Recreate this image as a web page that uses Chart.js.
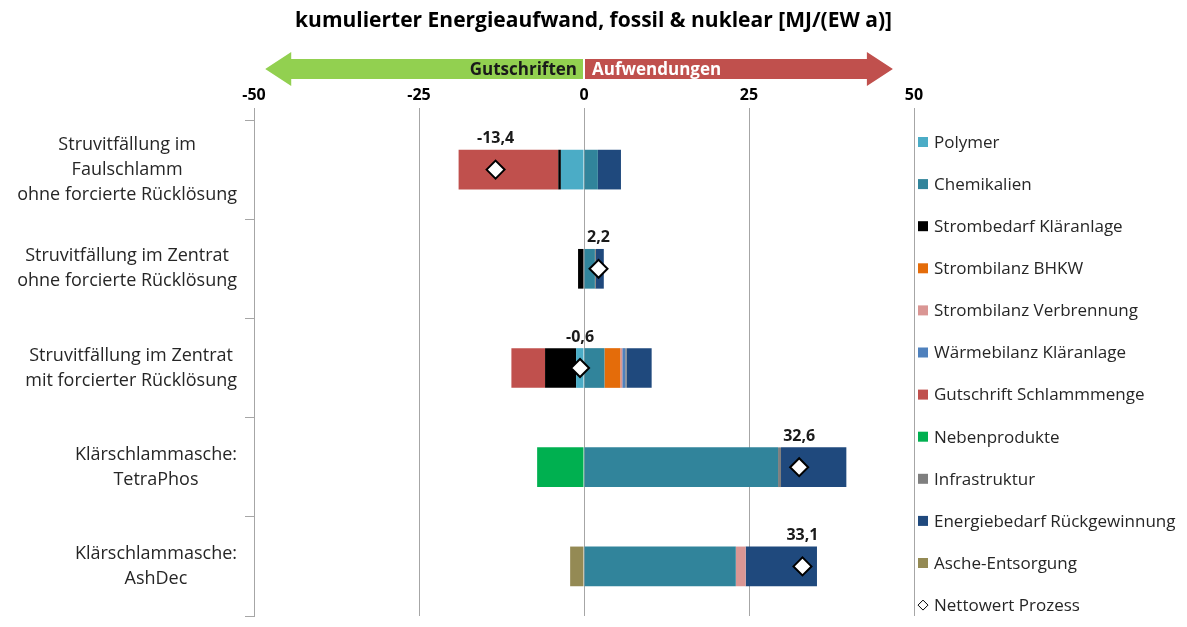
<!DOCTYPE html>
<html>
<head>
<meta charset="utf-8">
<script src="https://cdn.jsdelivr.net/npm/chart.js@4.4.0/dist/chart.umd.min.js"></script>
<style>
  html, body { margin: 0; padding: 0; background: #fff; }
</style>
</head>
<body>
<canvas id="energyChart" width="1187" height="627"></canvas>
<script>
// categories (one array per label line)
var categories = [
    ['Struvitfällung im', 'Faulschlamm', 'ohne forcierte Rücklösung'],
    ['Struvitfällung im Zentrat', 'ohne forcierte Rücklösung'],
    ['Struvitfällung im Zentrat', 'mit forcierter Rücklösung'],
    ['Klärschlammasche:', 'TetraPhos'],
    ['Klärschlammasche:', 'AshDec']
];

// MJ/(EW a)
var polymer                = [-3.5,  0,    -1.2,  0,     0];
var chemikalien            = [ 2.1,  1.65,  3.1,  29.4,  23.0];
var strombedarfKlaeranlage = [-0.4, -0.9,  -4.7,  0,     0];
var strombilanzBHKW        = [ 0,    0,     2.4,  0,     0];
var strombilanzVerbrennung = [ 0,    0,     0.3,  0,     1.5];
var waermebilanz           = [ 0,    0,     0.45, 0,     0];
var gutschriftSchlamm      = [-15.1, 0,    -5.1,  0,     0];
var nebenprodukte          = [ 0,    0,     0,   -7.1,   0];
var infrastruktur          = [ 0,    0.15,  0.2,  0.45,  0];
var energiebedarf          = [ 3.5,  1.2,   3.8,  9.9,   10.8];
var ascheEntsorgung        = [ 0,    0,     0,    0,    -2.1];
var nettowert              = [-13.4, 2.2,  -0.6,  32.6,  33.1];

var xTicks = [-50, -25, 0, 25, 50];

var FONT = 'Open Sans';
var TEXT = '#262626';
var GRID = '#a6a6a6';
var TITLE_H = 21 * 1.2 + 8 + 10;

Chart.defaults.font.family = FONT;
Chart.defaults.color = TEXT;

function fmt(v) {
    return v.toFixed(1).replace('.', ',');
}

function barSet(label, data, color) {
    return {
        label: label,
        data: data,
        backgroundColor: color,
        borderWidth: 0,
        barPercentage: 0.4,
        categoryPercentage: 1.0,
        stack: 'process'
    };
}

// category labels: block right-aligned to the axis, lines centred in the block
var categoryLabels = {
    id: 'categoryLabels',
    afterDraw: function(chart) {
        var ctx = chart.ctx, y = chart.scales.y;
        var lh = 25, right = y.right - 17;
        ctx.save();
        ctx.font = '18px "' + FONT + '"';
        ctx.fillStyle = TEXT;
        ctx.textAlign = 'center';
        ctx.textBaseline = 'middle';
        categories.forEach(function(lines, i) {
            var w = 0;
            lines.forEach(function(l) { w = Math.max(w, ctx.measureText(l).width); });
            var cx = right - w / 2;
            var cy = y.getPixelForValue(i);
            lines.forEach(function(l, j) {
                ctx.fillText(l, cx, cy + (j - (lines.length - 1) / 2) * lh);
            });
        });
        ctx.restore();
    }
};

// green / red arrows above the axis
var arrows = {
    id: 'arrows',
    afterDraw: function(chart) {
        var ctx = chart.ctx, x = chart.scales.x;
        var x0 = x.getPixelForValue(0);
        var xl = x.getPixelForValue(-48.3);
        var xr = x.getPixelForValue(46.8);
        var cy = 69, hb = 10, hh = 17, head = 26;
        ctx.save();
        ctx.fillStyle = '#92d050';
        ctx.beginPath();
        ctx.moveTo(x0 - 1, cy - hb);
        ctx.lineTo(xl + head, cy - hb);
        ctx.lineTo(xl + head, cy - hh);
        ctx.lineTo(xl, cy);
        ctx.lineTo(xl + head, cy + hh);
        ctx.lineTo(xl + head, cy + hb);
        ctx.lineTo(x0 - 1, cy + hb);
        ctx.closePath();
        ctx.fill();

        ctx.fillStyle = '#c0504d';
        ctx.beginPath();
        ctx.moveTo(x0 + 1, cy - hb);
        ctx.lineTo(xr - head, cy - hb);
        ctx.lineTo(xr - head, cy - hh);
        ctx.lineTo(xr, cy);
        ctx.lineTo(xr - head, cy + hh);
        ctx.lineTo(xr - head, cy + hb);
        ctx.lineTo(x0 + 1, cy + hb);
        ctx.closePath();
        ctx.fill();

        ctx.font = 'bold 17px "' + FONT + '"';
        ctx.textBaseline = 'middle';
        ctx.fillStyle = '#1a1a1a';
        ctx.textAlign = 'right';
        ctx.fillText('Gutschriften', x0 - 7, cy + 1);
        ctx.fillStyle = '#ffffff';
        ctx.textAlign = 'left';
        ctx.fillText('Aufwendungen', x0 + 8, cy + 1);
        ctx.restore();
    }
};

// value labels above the net markers
var netLabels = {
    id: 'netLabels',
    afterDatasetsDraw: function(chart) {
        var ctx = chart.ctx;
        var idx = chart.data.datasets.length - 1;
        var meta = chart.getDatasetMeta(idx);
        ctx.save();
        ctx.font = 'bold 16px "' + FONT + '"';
        ctx.fillStyle = '#1a1a1a';
        ctx.textAlign = 'center';
        ctx.textBaseline = 'middle';
        meta.data.forEach(function(pt, i) {
            ctx.fillText(fmt(chart.data.datasets[idx].data[i]), pt.x, pt.y - 31);
        });
        ctx.restore();
    }
};

// legend on the right, one entry per dataset
var sideLegend = {
    id: 'sideLegend',
    afterDraw: function(chart) {
        var ctx = chart.ctx, area = chart.chartArea;
        var bx = area.right + 4, tx = area.right + 20;
        var y0 = area.top + 22, step = 42.1;
        ctx.save();
        ctx.font = '17px "' + FONT + '"';
        ctx.textAlign = 'left';
        ctx.textBaseline = 'middle';
        chart.data.datasets.forEach(function(ds, i) {
            var cy = y0 + i * step;
            if (ds.type === 'line') {
                ctx.beginPath();
                ctx.moveTo(bx + 5, cy - 5);
                ctx.lineTo(bx + 10, cy);
                ctx.lineTo(bx + 5, cy + 5);
                ctx.lineTo(bx, cy);
                ctx.closePath();
                ctx.fillStyle = '#fff';
                ctx.fill();
                ctx.strokeStyle = '#000';
                ctx.lineWidth = 1;
                ctx.stroke();
            } else {
                ctx.fillStyle = ds.backgroundColor;
                ctx.fillRect(bx, cy - 5, 10, 10);
            }
            ctx.fillStyle = TEXT;
            ctx.fillText(ds.label, tx, cy + 1);
        });
        ctx.restore();
    }
};

var ctx = document.getElementById('energyChart');
var chart = new Chart(ctx, {
    type: 'bar',
    data: {
        labels: categories,
        datasets: [
            barSet('Polymer', polymer, '#4bacc6'),
            barSet('Chemikalien', chemikalien, '#31849b'),
            barSet('Strombedarf Kläranlage', strombedarfKlaeranlage, '#000000'),
            barSet('Strombilanz BHKW', strombilanzBHKW, '#e46c0a'),
            barSet('Strombilanz Verbrennung', strombilanzVerbrennung, '#da9694'),
            barSet('Wärmebilanz Kläranlage', waermebilanz, '#4f81bd'),
            barSet('Gutschrift Schlammmenge', gutschriftSchlamm, '#c0504d'),
            barSet('Nebenprodukte', nebenprodukte, '#00b050'),
            barSet('Infrastruktur', infrastruktur, '#7f7f7f'),
            barSet('Energiebedarf Rückgewinnung', energiebedarf, '#1f497d'),
            barSet('Asche-Entsorgung', ascheEntsorgung, '#948a54'),
            {
                type: 'line',
                label: 'Nettowert Prozess',
                data: nettowert,
                order: -1,
                showLine: false,
                pointStyle: 'rectRot',
                pointRadius: 9,
                pointHoverRadius: 9,
                pointBackgroundColor: '#ffffff',
                pointBorderColor: '#000000',
                pointBorderWidth: 2,
                backgroundColor: '#ffffff',
                borderColor: '#000000'
            }
        ]
    },
    options: {
        indexAxis: 'y',
        responsive: false,
        animation: false,
        layout: {
            padding: { left: 0, right: 0, top: 0, bottom: 4 }
        },
        scales: {
            x: {
                position: 'top',
                stacked: true,
                min: -50,
                max: 50,
                afterBuildTicks: function(scale) {
                    scale.ticks = xTicks.map(function(v) { return { value: v }; });
                },
                afterFit: function(scale) {
                    scale.height = 120 - TITLE_H;
                },
                ticks: {
                    padding: 3,
                    color: '#000',
                    font: { size: 16, weight: 'bold' },
                    callback: function(v) { return String(v); }
                },
                grid: {
                    color: GRID,
                    drawTicks: true,
                    tickLength: 12
                },
                border: { display: false }
            },
            y: {
                stacked: true,
                afterFit: function(scale) {
                    scale.width = 254;
                },
                ticks: { display: false },
                grid: {
                    color: GRID,
                    offset: true,
                    drawOnChartArea: false,
                    drawTicks: true,
                    tickLength: 9
                },
                border: { display: true, color: GRID }
            },
            // empty right axis that keeps room for the legend
            legendSpace: {
                type: 'category',
                position: 'right',
                display: true,
                labels: categories,
                afterFit: function(scale) {
                    scale.width = 273;
                },
                ticks: { display: false },
                grid: { display: false },
                border: { display: false }
            }
        },
        plugins: {
            title: {
                display: true,
                text: 'kumulierter Energieaufwand, fossil & nuklear [MJ/(EW a)]',
                color: '#000',
                font: { size: 21, weight: 'bold' },
                padding: { top: 8, bottom: 10 }
            },
            legend: { display: false },
            tooltip: { enabled: false }
        }
    },
    plugins: [categoryLabels, arrows, netLabels, sideLegend]
});
</script>
</body>
</html>
